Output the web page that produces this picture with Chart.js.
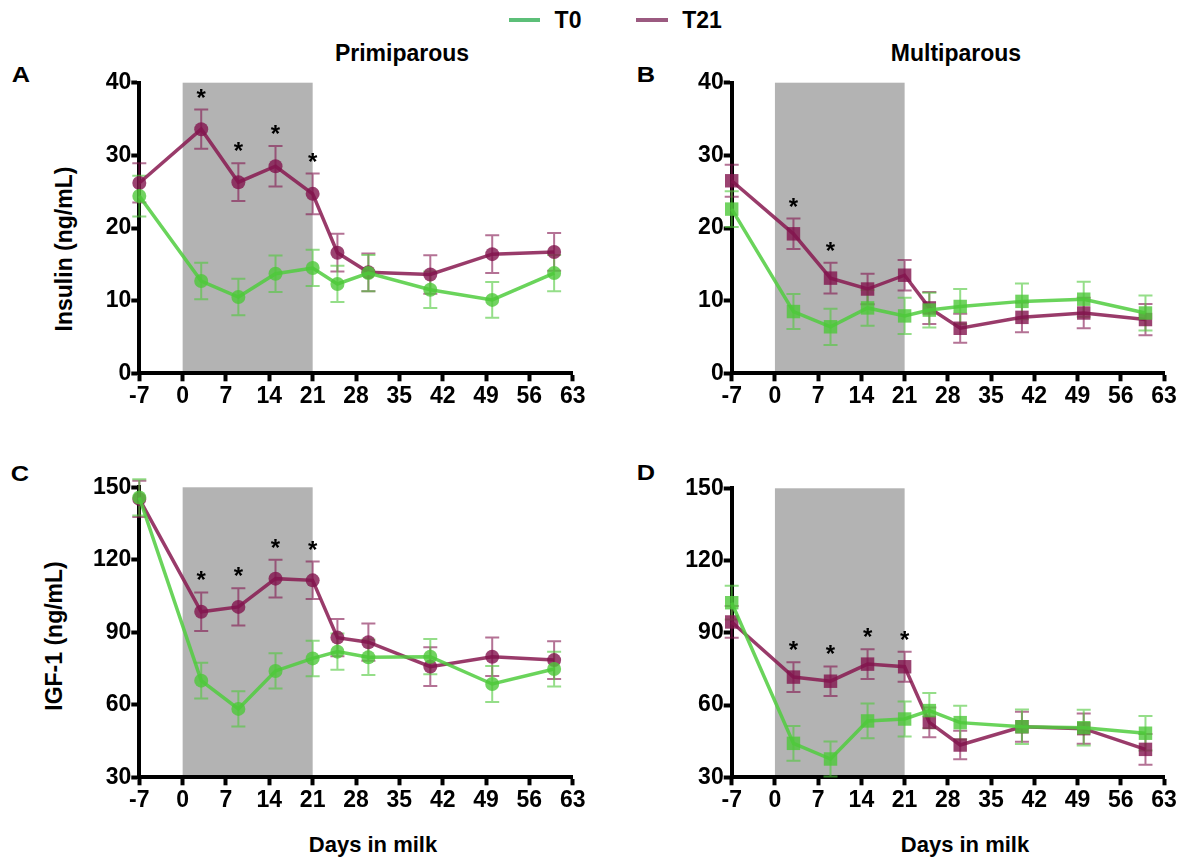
<!DOCTYPE html>
<html>
<head>
<meta charset="utf-8">
<title>Insulin and IGF-1</title>
<script src="https://cdn.jsdelivr.net/npm/chart.js@4.4.1/dist/chart.umd.min.js"></script>
<style>
  html, body { margin:0; padding:0; background:#fff; }
  body { width:1186px; height:862px; position:relative; overflow:hidden;
         font-family:"Liberation Sans", Arial, Helvetica, sans-serif; font-weight:bold; color:#000; }
  canvas { position:absolute; }
  .t { position:absolute; white-space:nowrap; line-height:1; transform:translate(-50%,-50%); }
  .wide { transform:translate(-50%,-50%) scaleX(1.15); }
  .rot { transform:translate(-50%,-50%) rotate(-90deg); }
  .leg { position:absolute; height:4px; }
</style>
</head>
<body>
<!-- legend -->
<div class="leg" style="left:509px;top:18px;width:31px;background:#5cbf78"></div>
<div class="t" style="left:568px;top:20px;font-size:23px">T0</div>
<div class="leg" style="left:636px;top:18px;width:32px;background:#9b5a80"></div>
<div class="t" style="left:702px;top:20px;font-size:23px">T21</div>

<div class="t" style="left:402px;top:53px;font-size:23px">Primiparous</div>
<div class="t" style="left:956px;top:53px;font-size:23px">Multiparous</div>

<div class="t wide" style="left:21px;top:75px;font-size:22px">A</div>
<div class="t wide" style="left:646px;top:75px;font-size:22px">B</div>
<div class="t wide" style="left:20px;top:474px;font-size:22px">C</div>
<div class="t wide" style="left:646px;top:473px;font-size:22px">D</div>

<div class="t rot" style="left:64px;top:249px;font-size:23px">Insulin (ng/mL)</div>
<div class="t rot" style="left:54px;top:636px;font-size:23px">IGF-1 (ng/mL)</div>

<div class="t" style="left:373px;top:845px;font-size:22px">Days in milk</div>
<div class="t" style="left:965px;top:845px;font-size:22px">Days in milk</div>

<canvas id="cA"></canvas>
<canvas id="cB"></canvas>
<canvas id="cC"></canvas>
<canvas id="cD"></canvas>

<script>
/* ---- data ---- */
const days = [-7, 3, 9, 15, 21, 25, 30, 40, 50, 60];
const xTicks = [-7, 0, 7, 14, 21, 28, 35, 42, 49, 56, 63];
const insulinTicks = [0, 10, 20, 30, 40];
const igfTicks = [30, 60, 90, 120, 150];
const treatmentDays = [0, 21];

// A: insulin, primiparous
const insPrimT0    = [24.4, 12.7, 10.5, 13.7, 14.5, 12.3, 13.8, 11.5, 10.1, 13.8];
const insPrimT0Se  = [2.8, 2.5, 2.5, 2.5, 2.5, 2.5, 2.5, 2.5, 2.45, 2.5];
const insPrimT21   = [26.2, 33.6, 26.3, 28.5, 24.7, 16.6, 13.9, 13.6, 16.4, 16.7];
const insPrimT21Se = [2.7, 2.7, 2.6, 2.8, 2.8, 2.6, 2.6, 2.65, 2.6, 2.6];
const starsA = [3, 9, 15, 21];

// B: insulin, multiparous
const insMultT0    = [22.6, 8.5, 6.4, 9.0, 7.9, 8.7, 9.2, 9.9, 10.2, 8.3];
const insMultT0Se  = [2.45, 2.4, 2.5, 2.45, 2.5, 2.4, 2.4, 2.45, 2.4, 2.4];
const insMultT21   = [26.5, 19.2, 13.1, 11.6, 13.5, 9.0, 6.2, 7.7, 8.3, 7.4];
const insMultT21Se = [2.2, 2.1, 2.1, 2.1, 2.1, 2.2, 2.0, 2.05, 2.1, 2.15];
const starsB = [3, 9];

// C: IGF-1, primiparous
const igfPrimT0    = [145.8, 70.0, 58.3, 74.0, 79.2, 82.0, 79.7, 79.9, 68.6, 74.8];
const igfPrimT0Se  = [7.5, 7.4, 7.3, 7.3, 7.35, 7.5, 7.35, 7.3, 7.45, 7.2];
const igfPrimT21   = [145.2, 98.5, 100.5, 112.2, 111.5, 87.8, 85.9, 75.8, 79.9, 78.5];
const igfPrimT21Se = [7.5, 8.0, 7.7, 7.8, 7.75, 7.7, 7.7, 8.0, 8.0, 7.8];
const starsC = [3, 9, 15, 21];

// D: IGF-1, multiparous
const igfMultT0    = [102.5, 44.1, 37.6, 53.4, 54.2, 57.7, 52.7, 51.0, 50.6, 48.3];
const igfMultT0Se  = [7.0, 7.25, 7.25, 7.2, 7.3, 7.3, 7.0, 7.2, 7.4, 7.2];
const igfMultT21   = [94.5, 71.6, 69.9, 77.0, 75.9, 52.8, 43.4, 51.0, 50.2, 41.6];
const igfMultT21Se = [6.6, 6.2, 6.15, 6.2, 6.2, 6.2, 5.9, 6.2, 6.25, 6.4];
const starsD = [3, 9, 15, 21];

/* ---- styles ---- */
const FONT = '"Liberation Sans", Arial, Helvetica, sans-serif';
const COLORS = {
  T0:  { line:'rgba(80,205,62,0.85)',  fill:'rgba(78,200,58,0.8)',  err:'rgba(78,200,58,0.6)' },
  T21: { line:'rgba(135,25,80,0.85)',  fill:'rgba(130,20,78,0.8)',  err:'rgba(130,20,78,0.6)' }
};
const SHADE = '#b3b3b3';
const X_AXIS_H = 40;

Chart.defaults.font.family = FONT;
Chart.defaults.font.weight = 'bold';
Chart.defaults.color = '#000';

/* ---- plugin: shaded period, error bars, asterisks ---- */
const panelDecor = {
  id: 'panelDecor',
  beforeDraw(chart, args, opts) {
    const { ctx, chartArea, scales: { x } } = chart;
    const xa = x.getPixelForValue(opts.shade[0]), xb = x.getPixelForValue(opts.shade[1]);
    ctx.save();
    ctx.fillStyle = SHADE;
    ctx.fillRect(xa, chartArea.top, xb - xa, chartArea.bottom - chartArea.top);
    ctx.restore();
  },
  beforeDatasetsDraw(chart) {
    const { ctx, scales: { x, y } } = chart;
    ctx.save();
    ctx.lineWidth = 2;
    chart.data.datasets.slice().reverse().forEach(ds => {
      ctx.strokeStyle = ds.errColor;
      ds.data.forEach((p, j) => {
        const se = ds.errors[j];
        const px = x.getPixelForValue(p.x);
        const top = y.getPixelForValue(p.y + se), bot = y.getPixelForValue(p.y - se);
        ctx.beginPath();
        ctx.moveTo(px, top); ctx.lineTo(px, bot);
        ctx.moveTo(px - 7, top); ctx.lineTo(px + 7, top);
        ctx.moveTo(px - 7, bot); ctx.lineTo(px + 7, bot);
        ctx.stroke();
      });
    });
    ctx.restore();
  },
  afterDatasetsDraw(chart, args, opts) {
    const { ctx, scales: { x, y } } = chart;
    ctx.save();
    ctx.fillStyle = '#000';
    ctx.font = 'bold 24px ' + FONT;
    ctx.textAlign = 'center';
    ctx.textBaseline = 'alphabetic';
    (opts.stars || []).forEach(d => {
      let hi = -Infinity;
      chart.data.datasets.forEach(ds => {
        const j = ds.data.findIndex(p => p.x === d);
        if (j >= 0) hi = Math.max(hi, ds.data[j].y + ds.errors[j]);
      });
      ctx.fillText('*', x.getPixelForValue(d), y.getPixelForValue(hi) - 4);
    });
    ctx.restore();
  }
};

function makeDataset(name, values, errors, pointStyle) {
  const c = COLORS[name];
  return {
    label: name,
    data: days.map((d, i) => ({ x: d, y: values[i] })),
    errors,
    errColor: c.err,
    borderColor: c.line,
    backgroundColor: c.fill,
    pointBackgroundColor: c.fill,
    pointBorderWidth: 0,
    pointStyle,
    pointRadius: pointStyle === 'rect' ? 9.5 : 7,
    borderWidth: 3.5,
    tension: 0,
    clip: false
  };
}

function makePanel(id, box, area, yTicks, sets, stars, pointStyle) {
  const cv = document.getElementById(id);
  cv.width = box.w; cv.height = box.h;
  cv.style.left = box.left + 'px'; cv.style.top = box.top + 'px';
  const yW = area.x0 - box.left;
  return new Chart(cv.getContext('2d'), {
    type: 'line',
    data: { datasets: [
      makeDataset('T0', sets[0], sets[1], pointStyle),
      makeDataset('T21', sets[2], sets[3], pointStyle)
    ] },
    options: {
      responsive: false,
      animation: false,
      devicePixelRatio: 1,
      layout: { padding: {
        left: 0,
        right: box.left + box.w - area.x1,
        top: area.y0 - box.top,
        bottom: box.top + box.h - area.y1 - X_AXIS_H
      } },
      plugins: {
        legend: { display: false },
        tooltip: { enabled: false },
        panelDecor: { shade: treatmentDays, stars }
      },
      scales: {
        x: {
          type: 'linear', min: xTicks[0], max: xTicks[xTicks.length - 1],
          afterBuildTicks: s => { s.ticks = xTicks.map(v => ({ value: v })); },
          afterFit: s => { s.height = X_AXIS_H; },
          ticks: { font: { size: 23, weight: 'bold' }, color: '#000', padding: 2, autoSkip: false, maxRotation: 0 },
          grid: { drawOnChartArea: false, tickLength: 8, tickWidth: 4, color: '#000' },
          border: { display: true, width: 4, color: '#000' }
        },
        y: {
          type: 'linear', min: yTicks[0], max: yTicks[yTicks.length - 1],
          afterBuildTicks: s => { s.ticks = yTicks.map(v => ({ value: v })); },
          afterFit: s => { s.width = yW; },
          ticks: { font: { size: 23, weight: 'bold' }, color: '#000', padding: 0 },
          grid: { drawOnChartArea: false, tickLength: 8, tickWidth: 4, color: '#000' },
          border: { display: true, width: 4, color: '#000' }
        }
      }
    },
    plugins: [panelDecor]
  });
}

makePanel('cA', { left: 0, top: 55, w: 590, h: 380 }, { x0: 139.3, x1: 572.7, y0: 82.7, y1: 373.3 },
  insulinTicks, [insPrimT0, insPrimT0Se, insPrimT21, insPrimT21Se], starsA, 'circle');
makePanel('cB', { left: 590, top: 55, w: 596, h: 380 }, { x0: 731.7, x1: 1164, y0: 82.7, y1: 373.3 },
  insulinTicks, [insMultT0, insMultT0Se, insMultT21, insMultT21Se], starsB, 'rect');
makePanel('cC', { left: 0, top: 455, w: 590, h: 380 }, { x0: 139.3, x1: 572.7, y0: 487.3, y1: 777.3 },
  igfTicks, [igfPrimT0, igfPrimT0Se, igfPrimT21, igfPrimT21Se], starsC, 'circle');
makePanel('cD', { left: 590, top: 455, w: 596, h: 380 }, { x0: 731.7, x1: 1164, y0: 488.3, y1: 777.3 },
  igfTicks, [igfMultT0, igfMultT0Se, igfMultT21, igfMultT21Se], starsD, 'rect');
</script>
</body>
</html>
